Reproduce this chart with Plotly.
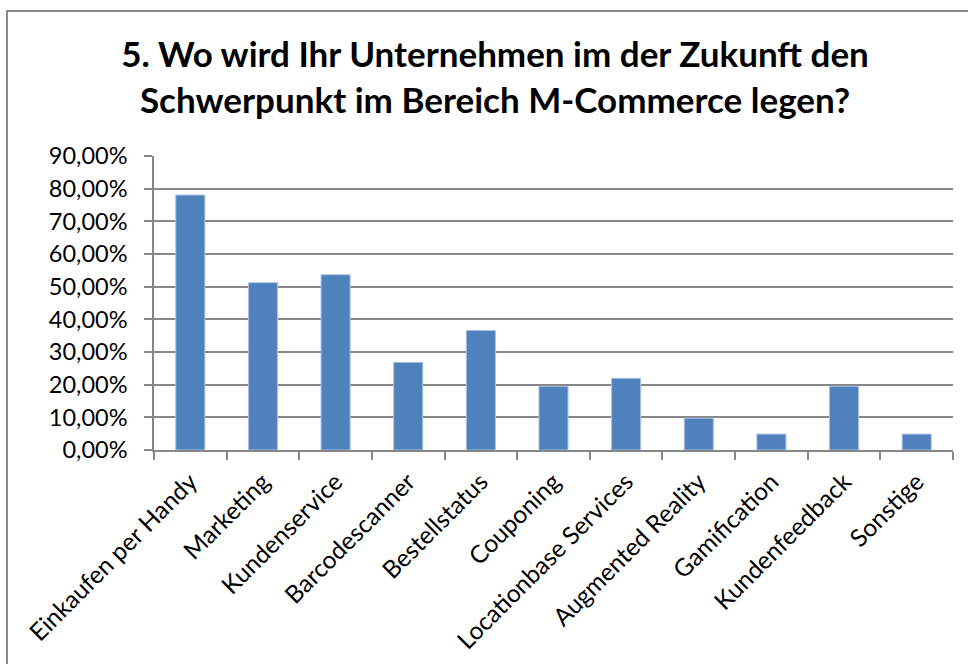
import plotly.graph_objects as go

categories = ["Einkaufen per Handy", "Marketing", "Kundenservice", "Barcodescanner",
              "Bestellstatus", "Couponing", "Locationbase Services", "Augmented Reality",
              "Gamification", "Kundenfeedback", "Sonstige"]
values = [0.7805, 0.5122, 0.5366, 0.2683, 0.3659, 0.1951, 0.2195, 0.0976, 0.0488, 0.1951, 0.0488]
y_ticks = [0, 0.1, 0.2, 0.3, 0.4, 0.5, 0.6, 0.7, 0.8, 0.9]

W, H = 968, 664
ML, MR, MT, MB = 154, 15, 156, 214
PW, PH = W - ML - MR, H - MT - MB

FONT = "Lato"
GRID = "#878787"

fig = go.Figure(go.Bar(
    x=categories, y=values,
    marker=dict(color="#4F81BD", line=dict(color="#A9C1DF", width=1)),
    hoverinfo="x+y",
))

fig.update_layout(
    width=W, height=H,
    margin=dict(l=ML, r=MR, t=MT, b=MB, autoexpand=False),
    paper_bgcolor="white", plot_bgcolor="white",
    separators=",.",
    bargap=0.6,
    showlegend=False,
    font=dict(family=FONT, color="black", size=23),
    title=dict(
        text="<b>5. Wo wird Ihr Unternehmen im der Zukunft den<br>Schwerpunkt im Bereich M-Commerce legen?</b>",
        font=dict(family=FONT, size=35, color="black"),
        x=495 / W, xref="container", xanchor="center",
        y=1 - 67 / H, yref="container", yanchor="top",
    ),
    xaxis=dict(
        type="category",
        tickangle=-45,
        ticks="outside", ticklen=8, tickcolor=GRID, tickwidth=1.5,
        tickson="boundaries",
        showline=True, linecolor=GRID, linewidth=1.5,
        showgrid=False,
        ticklabelstandoff=6,
        tickfont=dict(family=FONT, size=24.5, color="black"),
        automargin=False,
    ),
    yaxis=dict(
        range=[0, 0.9],
        tickvals=y_ticks,
        tickformat=".2%",
        ticks="outside", ticklen=8, tickcolor=GRID, tickwidth=1.5,
        showline=True, linecolor=GRID, linewidth=1.5,
        showgrid=True, gridcolor=GRID, gridwidth=1.5,
        zeroline=False,
        ticklabelstandoff=12,
        tickfont=dict(family=FONT, size=23.5, color="black"),
        automargin=False,
    ),
    shapes=[dict(
        type="rect", xref="paper", yref="paper",
        x0=(7 - ML) / PW, x1=(W + 20 - ML) / PW,
        y0=-(MB + 20) / PH, y1=(H - 11 - MB) / PH,
        line=dict(color="#8a8a8a", width=2), fillcolor="rgba(0,0,0,0)",
        layer="below",
    )],
)

fig.write_html("out.html", config={"displayModeBar": False},
               post_script="document.body.style.margin='0px';document.body.style.overflow='hidden';")
